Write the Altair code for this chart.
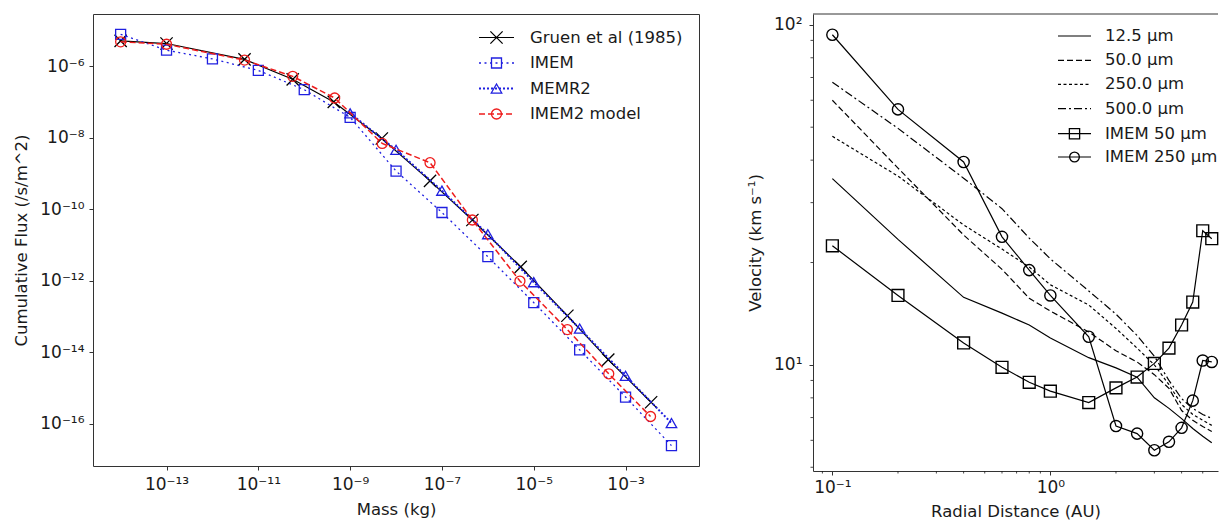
import altair as alt
import pandas as pd

FONT = "DejaVu Sans"
INK = "#1a1a1a"
LABEL_FS = 17
TITLE_FS = 16.5
LEGEND_FS = 16.5

# ---------------- Left panel: cumulative flux vs mass ----------------
gruen_mass = [1e-14, 1e-13, 5.0e-12, 5.6e-11, 4.4e-10, 4.9e-9, 5.5e-8, 4.6e-7, 5.2e-6, 5.4e-5, 4.2e-4, 3.6e-3]
gruen_flux = [5.1e-6, 4.3e-6, 1.55e-6, 4.3e-7, 1.0e-7, 9.5e-9, 6.2e-10, 5.0e-11, 2.45e-12, 1.05e-13, 6.2e-15, 4.0e-16]

imem_mass = [1e-14, 1e-13, 1e-12, 1e-11, 1e-10, 1e-9, 1e-8, 1e-7, 1e-6, 1e-5, 1e-4, 1e-3, 1e-2]
imem_flux = [7.8e-6, 2.8e-6, 1.6e-6, 7.6e-7, 2.2e-7, 3.7e-8, 1.17e-9, 8.1e-11, 4.7e-12, 2.45e-13, 1.17e-14, 5.6e-16, 2.45e-17]

memr2_mass = [1e-9, 1e-8, 1e-7, 1e-6, 1e-5, 1e-4, 1e-3, 1e-2]
memr2_flux = [4.8e-8, 4.6e-9, 3.3e-10, 2.0e-11, 9.1e-13, 4.6e-14, 2.2e-15, 1.05e-16]

imem2_mass = [1e-14, 1e-13, 5.0e-12, 5.6e-11, 4.6e-10, 5.0e-9, 5.5e-8, 4.6e-7, 5.0e-6, 5.4e-5, 4.3e-4, 3.5e-3]
imem2_flux = [4.8e-6, 4.1e-6, 1.48e-6, 5.2e-7, 1.29e-7, 6.9e-9, 2.0e-9, 5.0e-11, 9.8e-13, 4.3e-14, 2.5e-15, 1.6e-16]

left_x_ticks = [-13, -11, -9, -7, -5, -3]
left_y_ticks = [-6, -8, -10, -12, -14, -16]
left_legend = ["Gruen et al (1985)", "IMEM", "MEMR2", "IMEM2 model"]

# ---------------- Right panel: velocity vs radial distance ----------------
radial = [0.1, 0.2, 0.4, 0.6, 0.8, 1.0, 1.5, 2.0, 2.5, 3.0, 3.5, 4.0, 4.5, 5.0, 5.5]
v_12_5 = [35.3, 23.4, 15.8, 14.2, 13.1, 12.0, 10.5, 9.8, 9.2, 8.0, 7.45, 6.95, 6.5, 6.17, 5.9]
v_50 = [60.0, 37.9, 24.1, 19.1, 15.7, 14.4, 12.5, 11.0, 10.2, 9.36, 8.53, 7.34, 6.87, 6.59, 6.37]
v_250 = [47.0, 35.9, 25.8, 21.9, 19.4, 17.2, 15.0, 12.8, 11.2, 10.0, 8.75, 7.65, 7.15, 6.87, 6.64]
v_500 = [67.8, 49.6, 35.4, 28.8, 23.6, 20.5, 16.5, 14.1, 12.2, 10.6, 9.0, 7.96, 7.45, 7.15, 6.96]
imem_50 = [22.4, 16.0, 11.6, 9.84, 8.89, 8.37, 7.75, 8.56, 9.21, 10.1, 11.2, 13.1, 15.3, 24.8, 23.5]
imem_250 = [93.5, 56.4, 39.5, 23.8, 19.0, 16.0, 12.1, 6.61, 6.28, 5.61, 5.94, 6.53, 7.85, 10.3, 10.2]

right_x_ticks = [-1, 0]
right_y_ticks = [1, 2]
right_x_minor = [0.09, 0.2, 0.3, 0.4, 0.5, 0.6, 0.7, 0.8, 0.9, 2, 3, 4, 5]
right_y_minor = [5, 6, 7, 8, 9, 20, 30, 40, 50, 60, 70, 80, 90]
right_legend = ["12.5 µm", "50.0 µm", "250.0 µm", "500.0 µm", "IMEM 50 µm", "IMEM 250 µm"]

SUP = str.maketrans("-0123456789", "⁻⁰¹²³⁴⁵⁶⁷⁸⁹")
XMARK = "M-1,-1L1,1M-1,1L1,-1"


def log_label_expr(exps):
    parts = [f"round(log(datum.value)/LN10) == {e} ? '10{str(e).translate(SUP)}'" for e in exps]
    return " : ".join(parts) + " : ''"


# ---------------- Left chart ----------------
LW, LH = 606, 452
lx_scale = alt.Scale(type="log", domain=[2.5e-15, 3.98e-2], nice=False)
ly_scale = alt.Scale(type="log", domain=[6.6e-18, 2.88e-5], nice=False)
lx_axis = alt.Axis(values=[10.0 ** e for e in left_x_ticks], labelExpr=log_label_expr(left_x_ticks),
                   title="Mass (kg)", titlePadding=9, labelPadding=6)
ly_axis = alt.Axis(values=[10.0 ** e for e in left_y_ticks], labelExpr=log_label_expr(left_y_ticks),
                   title="Cumulative Flux (/s/m^2)", titlePadding=10, labelPadding=5)


def series(xv, yv, xs, ys, xa, ya, color, width, dash, shape, size, mstroke=1.3):
    df = pd.DataFrame({"x": xv, "y": yv})
    base = alt.Chart(df).encode(
        x=alt.X("x:Q", scale=xs, axis=xa),
        y=alt.Y("y:Q", scale=ys, axis=ya),
    )
    lkw = dict(color=color, strokeWidth=width, clip=False)
    if dash:
        lkw["strokeDash"] = dash
    layers = [base.mark_line(**lkw)]
    if shape:
        layers.append(base.mark_point(shape=shape, size=size, color=color, filled=False,
                                      strokeWidth=mstroke, opacity=1))
    return layers


left_specs = [
    (gruen_mass, gruen_flux, "#000000", 1.2, None, XMARK, 150),
    (imem_mass, imem_flux, "#1f1fe0", 1.3, [2, 3.5], "square", 100),
    (memr2_mass, memr2_flux, "#1f1fe0", 2.0, [2, 2], "triangle-up", 110),
    (imem2_mass, imem2_flux, "#ee1c1c", 1.5, [6, 3], "circle", 100),
]

left_layers = []
for xv, yv, col, w, d, shp, sz in left_specs:
    left_layers += series(xv, yv, lx_scale, ly_scale, lx_axis, ly_axis, col, w, d, shp, sz)

# legend (left)
leg_rows_left = [23.5, 49, 74.5, 100]
for (xv, yv, col, w, d, shp, sz), lab, yy in zip(left_specs, left_legend, leg_rows_left):
    src = alt.Chart(pd.DataFrame({"label": [lab]}))
    rkw = dict(color=col, strokeWidth=w)
    if d:
        rkw["strokeDash"] = d
    left_layers.append(src.mark_rule(**rkw).encode(x=alt.value(386), x2=alt.value(421), y=alt.value(yy)))
    left_layers.append(src.mark_point(shape=shp, size=sz, color=col, filled=False, strokeWidth=1.3,
                                      opacity=1).encode(x=alt.value(403.5), y=alt.value(yy)))
    left_layers.append(src.mark_text(align="left", baseline="middle", font=FONT, fontSize=LEGEND_FS,
                                     color=INK).encode(x=alt.value(437), y=alt.value(yy), text="label:N"))

left = alt.layer(*left_layers).properties(width=LW, height=LH)

# ---------------- Right chart ----------------
RW, RH = 405, 457
rx_scale = alt.Scale(type="log", domain=[0.0815, 5.875], nice=False)
ry_scale = alt.Scale(type="log", domain=[4.875, 107.6], nice=False)
rx_axis = alt.Axis(values=[10.0 ** e for e in right_x_ticks], labelExpr=log_label_expr(right_x_ticks),
                   title="Radial Distance (AU)", titlePadding=8, labelPadding=4, domain=True)
ry_axis = alt.Axis(values=[10.0 ** e for e in right_y_ticks], labelExpr=log_label_expr(right_y_ticks),
                   title="Velocity (km s⁻¹)", titlePadding=10, labelPadding=7, domain=True)

right_specs = [
    (v_12_5, None, None, 0),
    (v_50, [6, 3], None, 0),
    (v_250, [3, 2.5], None, 0),
    (v_500, [8, 3, 2, 3], None, 0),
    (imem_50, None, "square", 140),
    (imem_250, None, "circle", 125),
]

right_layers = []
for yv, d, shp, sz in right_specs:
    right_layers += series(radial, yv, rx_scale, ry_scale, rx_axis, ry_axis, "#000000", 1.2, d, shp, sz, 1.4)

# minor ticks
right_layers.append(
    alt.Chart(pd.DataFrame({"v": right_x_minor})).mark_rule(color=INK, strokeWidth=0.8).encode(
        x=alt.X("v:Q", scale=rx_scale, axis=rx_axis), y=alt.value(RH), y2=alt.value(RH + 2.5))
)
right_layers.append(
    alt.Chart(pd.DataFrame({"v": right_y_minor})).mark_rule(color=INK, strokeWidth=0.8).encode(
        y=alt.Y("v:Q", scale=ry_scale, axis=ry_axis), x=alt.value(-2.5), x2=alt.value(0))
)
# top spine
right_layers.append(
    alt.Chart(pd.DataFrame({"a": [0]})).mark_rule(color="#333333", strokeWidth=1).encode(
        x=alt.value(0), x2=alt.value(RW), y=alt.value(0))
)

# legend (right)
leg_rows_right = [22, 46.3, 70.3, 94.7, 119.7, 143]
for (yv, d, shp, sz), lab, yy in zip(right_specs, right_legend, leg_rows_right):
    src = alt.Chart(pd.DataFrame({"label": [lab]}))
    rkw = dict(color="#000000", strokeWidth=1.2)
    if d:
        rkw["strokeDash"] = d
    right_layers.append(src.mark_rule(**rkw).encode(x=alt.value(245), x2=alt.value(278), y=alt.value(yy)))
    if shp:
        right_layers.append(src.mark_point(shape=shp, size=sz * 0.75, color="#000000", filled=False,
                                           strokeWidth=1.3, opacity=1).encode(x=alt.value(261.5), y=alt.value(yy)))
    right_layers.append(src.mark_text(align="left", baseline="middle", font=FONT, fontSize=LEGEND_FS,
                                      color=INK).encode(x=alt.value(292), y=alt.value(yy), text="label:N"))

right = alt.layer(*right_layers).properties(
    width=RW, height=RH, view=alt.ViewBackground(stroke="transparent"))

chart = (
    alt.hconcat(left, right, spacing=47)
    .properties(padding={"left": 5, "top": 5, "right": 0, "bottom": 0})
    .configure(font=FONT)
    .configure_view(stroke="#333333", strokeWidth=1)
    .configure_axis(labelFont=FONT, titleFont=FONT, labelFontSize=LABEL_FS, titleFontSize=TITLE_FS,
                    labelColor=INK, titleColor=INK, tickColor="#333333", domainColor="#333333",
                    grid=False, titleFontWeight="normal", tickSize=4, labelPadding=3,
                    domain=False, tickWidth=1)
)

chart.save("out.html", embed_options={"renderer": "svg", "actions": False})
